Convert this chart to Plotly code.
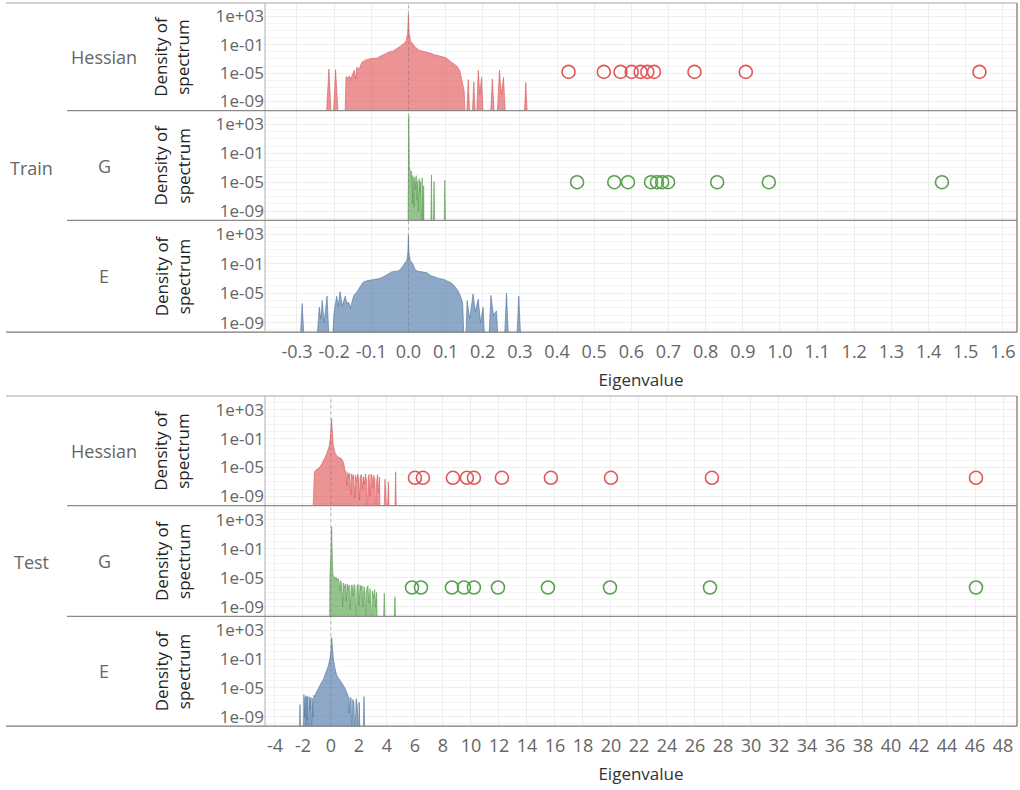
import numpy as np
import plotly.graph_objects as go

W, H = 1020, 790
FLOOR = -12  # log10 density used for empty stretches (below the visible axis)

# ---------------------------------------------------------------- data
# Eigenvalue spectra: eigenvalue positions and log10(density of spectrum)

# Train / Hessian
train_hess_x = [-0.222, -0.214, -0.207, -0.203, -0.196, -0.188,
                -0.171, -0.168, -0.163, -0.159, -0.155, -0.150, -0.146, -0.142, -0.139, -0.132,
                -0.126, -0.118, -0.108, -0.098, -0.086, -0.074, -0.062, -0.052, -0.042, -0.032,
                -0.022, -0.012, -0.006, -0.002, 0.0, 0.002, 0.006, 0.012, 0.020, 0.030, 0.040,
                0.050, 0.060, 0.070, 0.080, 0.090, 0.100, 0.110, 0.120, 0.130, 0.138, 0.143,
                0.150, 0.153,
                0.156, 0.161, 0.166, 0.171, 0.176, 0.181, 0.183, 0.188, 0.192, 0.197, 0.202,
                0.220, 0.226, 0.232, 0.238, 0.245, 0.250, 0.256, 0.262, 0.311, 0.316, 0.321]
train_hess_logd = [FLOOR, -4.4, FLOOR, FLOOR, -4.5, FLOOR,
                   FLOOR, -5.5, -5.7, -5.4, -5.8, -5.0, -4.6, -5.8, -4.2, -4.4,
                   -3.5, -3.2, -3.0, -2.9, -2.9, -2.6, -2.3, -2.0, -1.9, -1.6,
                   -1.2, -0.8, -0.4, 0.6, 3.35, 0.6, -0.5, -0.9, -1.4, -1.8, -1.9,
                   -2.0, -2.2, -2.4, -2.5, -2.6, -2.8, -3.2, -3.6, -4.0, -4.6, -5.9,
                   -7.5, FLOOR,
                   FLOOR, -5.9, FLOOR, FLOOR, -6.2, FLOOR, FLOOR, -4.6, -8.0, -5.6, FLOOR,
                   FLOOR, -5.8, FLOOR, FLOOR, -4.6, -8.0, -5.6, FLOOR, FLOOR, -6.3, FLOOR]

# Train / G
train_g_x = [-0.001, 0.0, 0.001, 0.0025, 0.004, 0.006, 0.008, 0.010, 0.011, 0.012, 0.014,
             0.015, 0.017, 0.019, 0.021, 0.023, 0.025, 0.027, 0.029, 0.031, 0.033, 0.035,
             0.036, 0.037, 0.038, 0.040, 0.041, 0.042, 0.060, 0.062, 0.064, 0.067, 0.069,
             0.071, 0.096, 0.098, 0.100]
train_g_logd = [FLOOR, -3.5, 4.2, -2.9, -3.2, -3.7, -3.5, -4.6, -8.0, -4.1, -5.2,
                -8.5, -4.3, -6.0, -4.1, -7.5, -4.8, -9.0, -4.5, -6.5, -4.9, FLOOR,
                FLOOR, -4.4, FLOOR, FLOOR, -5.5, FLOOR, FLOOR, -4.0, FLOOR, FLOOR, -4.9,
                FLOOR, FLOOR, -4.7, FLOOR]

# Train / E
train_e_x = [-0.292, -0.286, -0.280,
             -0.247, -0.240, -0.236, -0.232, -0.227, -0.219, -0.213,
             -0.205, -0.200, -0.193, -0.189, -0.184, -0.178, -0.170, -0.165, -0.161, -0.156,
             -0.151, -0.147, -0.141, -0.135, -0.128, -0.122, -0.112, -0.100, -0.088, -0.077,
             -0.065, -0.055, -0.045, -0.035, -0.027, -0.018, -0.010, -0.004, -0.0015, 0.0,
             0.0015, 0.005, 0.011, 0.018, 0.025, 0.035, 0.049, 0.060, 0.071, 0.082, 0.094,
             0.105, 0.116, 0.125, 0.134, 0.141, 0.146, 0.150,
             0.154, 0.158, 0.165, 0.174, 0.180, 0.188, 0.194, 0.201, 0.206,
             0.216, 0.222, 0.229, 0.237, 0.242, 0.258, 0.264, 0.270, 0.291, 0.297, 0.303]
train_e_logd = [FLOOR, -6.4, FLOOR,
                FLOOR, -6.9, -8.5, -6.0, -9.0, -5.4, FLOOR,
                FLOOR, -7.5, -5.4, -6.8, -4.8, -6.7, -5.4, -6.5, -6.2, -7.0,
                -6.0, -5.3, -5.0, -4.5, -3.9, -3.5, -3.3, -3.2, -3.1, -3.0,
                -2.7, -2.4, -2.1, -2.0, -2.0, -1.5, -1.0, -0.5, 0.5, 2.86,
                0.5, -0.6, -0.9, -1.8, -2.0, -2.1, -2.2, -2.6, -2.85, -3.0, -3.1,
                -3.3, -3.6, -4.1, -4.7, -5.5, -6.3, FLOOR,
                FLOOR, -6.0, -8.5, -5.1, -7.5, -5.8, -9.0, -6.9, FLOOR,
                FLOOR, -5.3, -8.0, -7.4, FLOOR, FLOOR, -5.0, FLOOR, FLOOR, -5.4, FLOOR]

# Test / Hessian
test_hess_x = [-1.30, -1.26, -1.18, -1.09, -0.95, -0.79, -0.65, -0.55, -0.42, -0.31, -0.20,
               -0.12, -0.04, 0.05, 0.12, 0.17, 0.28, 0.40, 0.55, 0.76, 0.90, 1.00, 1.08,
               1.14, 1.20, 1.28, 1.34, 1.42, 1.48, 1.56, 1.62, 1.70, 1.76, 1.84, 1.90, 1.98,
               2.04, 2.10, 2.18, 2.26, 2.32, 2.40, 2.46, 2.54, 2.60, 2.66, 2.72, 2.80, 2.86,
               2.94, 3.00, 3.06, 3.14, 3.20, 3.26, 3.32, 3.40, 3.46, 3.52,
               3.78, 3.86, 3.94, 4.02, 4.10, 4.18, 4.56, 4.62, 4.68]
test_hess_logd = [FLOOR, -8.4, -5.6, -5.4, -5.2, -4.95, -4.5, -4.0, -3.6, -3.1, -2.6,
                  -2.0, -0.8, 1.72, -0.6, -1.9, -2.9, -3.35, -3.6, -3.8, -4.3, -5.4, -5.6,
                  -7.5, -5.7, -6.5, -5.8, -8.8, -5.9, -6.6, -6.0, -9.2, -6.1, -7.0, -5.9, -6.5,
                  -9.5, -6.2, -6.0, -8.0, -6.3, -7.3, -5.9, -6.8, FLOOR, -6.4, -6.0, -9.0, -5.9,
                  -6.2, -7.8, -6.1, -6.6, FLOOR, -7.0, -6.0, -8.5, -6.3, FLOOR,
                  FLOOR, -6.6, FLOOR, FLOOR, -7.0, FLOOR, FLOOR, -5.6, FLOOR]

# Test / G
test_g_x = [-0.10, -0.07, 0.0, 0.05, 0.10, 0.14, 0.22, 0.29, 0.36, 0.44, 0.52, 0.58, 0.64,
            0.70, 0.78, 0.84, 0.90, 0.98, 1.04, 1.10, 1.16, 1.24, 1.30, 1.38, 1.44, 1.52,
            1.58, 1.66, 1.72, 1.80, 1.86, 1.94, 2.00, 2.08, 2.14, 2.22, 2.28, 2.36, 2.44,
            2.50, 2.56, 2.64, 2.72, 2.80, 2.88, 2.96, 3.04, 3.12, 3.20, 3.26, 3.32,
            3.74, 3.81, 3.88, 4.50, 4.57, 4.64]
test_g_logd = [FLOOR, -4.5, -2.0, 1.98, -2.5, -4.6, -4.8, -5.1, -4.9, -5.3, -5.1, -5.6, -6.8,
               -5.4, -6.0, -9.0, -5.7, -6.4, -5.9, -8.2, -5.8, -6.6, -6.0, -9.4, -6.1, -6.0,
               -7.5, -5.9, -6.4, FLOOR, -6.2, -5.9, -8.8, -6.0, -6.6, -6.1, -9.0, -6.2, -7.0,
               FLOOR, -6.4, -6.1, -8.5, -6.5, FLOOR, -6.8, -7.8, -6.6, -9.0, -7.0, FLOOR,
               FLOOR, -7.15, FLOOR, FLOOR, -7.6, FLOOR]

# Test / E
test_e_x = [-2.26, -2.21, -2.17,
            -1.97, -1.93, -1.88, -1.84, -1.80, -1.76, -1.72, -1.66, -1.60, -1.56, -1.50,
            -1.43, -1.38, -1.34, -1.28, -1.22, -1.14, -1.07, -0.95, -0.79, -0.67, -0.55,
            -0.43, -0.31, -0.18, -0.07, 0.00, 0.05, 0.10, 0.17, 0.28, 0.40, 0.52, 0.64,
            0.80, 1.00, 1.12, 1.24, 1.30, 1.36, 1.44, 1.50, 1.56, 1.64, 1.72, 1.80, 1.88,
            1.96, 2.02, 2.08, 2.30, 2.36, 2.42]
test_e_logd = [FLOOR, -7.3, FLOOR,
               FLOOR, -5.9, -9.0, -6.2, FLOOR, -6.1, -9.5, -6.2, FLOOR, -6.2, -8.0,
               -6.3, FLOOR, -6.4, -9.0, -6.0, -6.2, -5.7, -5.3, -4.6, -4.2, -3.9,
               -3.3, -2.7, -1.9, -0.9, 0.2, 1.96, 0.0, -0.9, -2.2, -3.2, -3.6, -3.9,
               -4.4, -5.0, -5.6, -6.2, -8.5, -6.3, -6.5, FLOOR, -6.6, -7.0, FLOOR, -6.5, -7.5,
               FLOOR, -7.0, FLOOR, FLOOR, -6.2, FLOOR]

# Top eigenvalues (outliers) and the density level at which they are marked
train_hess_top = [0.431, 0.526, 0.571, 0.601, 0.625, 0.643, 0.661, 0.770, 0.908, 1.537]
train_g_top = [0.454, 0.554, 0.591, 0.653, 0.669, 0.683, 0.699, 0.831, 0.970, 1.436]
test_hess_top = [6.00, 6.57, 8.71, 9.71, 10.21, 12.21, 15.71, 20.00, 27.21, 46.07]
test_g_top = [5.79, 6.43, 8.64, 9.50, 10.21, 11.93, 15.50, 19.93, 27.07, 46.07]
train_top_density = [1.5e-05, 1.0e-05]
test_top_density = [3.7e-07, 4.7e-07]

# Axis ticks
y_tick_vals = [1e3, 1e-1, 1e-5, 1e-9]
y_tick_text = ["1e+03", "1e-01", "1e-05", "1e-09"]
train_x_ticks = [-0.3, -0.2, -0.1, 0.0, 0.1, 0.2, 0.3, 0.4, 0.5, 0.6, 0.7, 0.8, 0.9,
                 1.0, 1.1, 1.2, 1.3, 1.4, 1.5, 1.6]
train_x_text = ["-0.3", "-0.2", "-0.1", "0.0", "0.1", "0.2", "0.3", "0.4", "0.5", "0.6",
                "0.7", "0.8", "0.9", "1.0", "1.1", "1.2", "1.3", "1.4", "1.5", "1.6"]
test_x_ticks = [-4, -2, 0, 2, 4, 6, 8, 10, 12, 14, 16, 18, 20, 22, 24, 26, 28, 30, 32,
                34, 36, 38, 40, 42, 44, 46, 48]
test_x_text = [str(v) for v in test_x_ticks]
decade_vals = [10.0 ** k for k in range(-10, 5)]

# ---------------------------------------------------------------- style
FONT = "Open Sans"
C_RED, C_GREEN, C_BLUE = "#E15759", "#59A14F", "#4E79A7"
FILL = {"red": "rgba(225,87,89,0.64)", "green": "rgba(89,161,79,0.64)",
        "blue": "rgba(78,121,167,0.64)"}
EDGE = {"red": "rgba(214,80,84,0.8)", "green": "rgba(80,150,70,0.8)",
        "blue": "rgba(70,110,155,0.8)"}

PLOT_L, PLOT_R = 265, 1017
# pixel rows of the six panels (top, bottom)
panels = [(3, 111), (111, 221), (221, 333), (397, 507), (507, 618), (618, 728)]
LOG_RANGE = [-10.3, 4.9]


def px_x(p):
    return p / W


def px_y(p):
    return 1 - p / H


fig = go.Figure()


def add_area(xs, logd, xa, ya, key):
    xs = list(xs)
    ys = list(np.power(10.0, np.array(logd, dtype=float)))
    fig.add_trace(go.Scatter(
        x=xs, y=ys, xaxis=xa, yaxis=ya, mode="lines", fill="toself",
        fillcolor=FILL[key], line=dict(color=EDGE[key], width=0.7),
        hoverinfo="skip", showlegend=False))


def add_circles(xs, dens, xa, ya, color):
    fig.add_trace(go.Scatter(
        x=xs, y=[dens] * len(xs), xaxis=xa, yaxis=ya, mode="markers",
        marker=dict(symbol="circle-open", size=13, color=color, line=dict(width=1.6)),
        hoverinfo="x", showlegend=False))


add_area(train_hess_x, train_hess_logd, "x", "y", "red")
add_area(train_g_x, train_g_logd, "x", "y2", "green")
add_area(train_e_x, train_e_logd, "x", "y3", "blue")
add_area(test_hess_x, test_hess_logd, "x2", "y4", "red")
add_area(test_g_x, test_g_logd, "x2", "y5", "green")
add_area(test_e_x, test_e_logd, "x2", "y6", "blue")

add_circles(train_hess_top, train_top_density[0], "x", "y", C_RED)
add_circles(train_g_top, train_top_density[1], "x", "y2", C_GREEN)
add_circles(test_hess_top, test_top_density[0], "x2", "y4", C_RED)
add_circles(test_g_top, test_top_density[1], "x2", "y5", C_GREEN)

layout = dict(
    width=W, height=H, margin=dict(l=0, r=0, t=0, b=0),
    paper_bgcolor="white", plot_bgcolor="white",
    font=dict(family=FONT, size=16, color="#666666"),
    showlegend=False,
)

xcommon = dict(domain=[px_x(PLOT_L), px_x(PLOT_R)], showgrid=True, gridcolor="#eeeeee",
               gridwidth=1, zeroline=False, showline=False, ticks="",
               ticklabelstandoff=7,
               tickfont=dict(family=FONT, size=18, color="#666666"), tickmode="array",
               title=dict(text="Eigenvalue", font=dict(family=FONT, size=17, color="#333333"),
                          standoff=11))
layout["xaxis"] = dict(xcommon, range=[-0.386, 1.638], anchor="y3",
                       tickvals=train_x_ticks, ticktext=train_x_text)
layout["xaxis2"] = dict(xcommon, range=[-4.71, 49.0], anchor="y6",
                        tickvals=test_x_ticks, ticktext=test_x_text)

for i, (top, bot) in enumerate(panels):
    name = "yaxis" if i == 0 else f"yaxis{i + 1}"
    layout[name] = dict(
        type="log", range=LOG_RANGE, domain=[px_y(bot), px_y(top)],
        anchor="x" if i < 3 else "x2",
        tickmode="array", tickvals=y_tick_vals, ticktext=y_tick_text,
        tickfont=dict(family=FONT, size=17, color="#666666"),
        showgrid=True, gridcolor="#eeeeee", zeroline=False, showline=False, ticks="",
        minor=dict(tickmode="array", tickvals=decade_vals, showgrid=True,
                   gridcolor="#f4f4f4", ticks=""),
    )

fig.update_layout(**layout)

shapes = []
# dotted zero lines
for xa, (top, bot) in (("x", (3, 333)), ("x2", (397, 728))):
    shapes.append(dict(type="line", xref=xa, yref="paper", x0=0, x1=0,
                       y0=px_y(bot), y1=px_y(top), layer="above",
                       line=dict(color="rgba(120,120,120,0.55)", width=1, dash="dot")))
# frame lines
for top, bot in ((3, 333), (397, 728)):
    shapes.append(dict(type="line", xref="paper", yref="paper", x0=px_x(6), x1=px_x(PLOT_R),
                       y0=px_y(top), y1=px_y(top), line=dict(color="#a6a6a6", width=1)))
    shapes.append(dict(type="line", xref="paper", yref="paper", x0=px_x(6), x1=px_x(PLOT_R),
                       y0=px_y(bot), y1=px_y(bot), line=dict(color="#7a7a7a", width=1.2)))
    shapes.append(dict(type="line", xref="paper", yref="paper", x0=px_x(PLOT_L), x1=px_x(PLOT_L),
                       y0=px_y(bot), y1=px_y(top), line=dict(color="#b0b0b0", width=1)))
    shapes.append(dict(type="line", xref="paper", yref="paper", x0=px_x(PLOT_R), x1=px_x(PLOT_R),
                       y0=px_y(bot), y1=px_y(top), line=dict(color="#6e6e6e", width=1.2)))
for yy in (111, 221, 507, 618):
    shapes.append(dict(type="line", xref="paper", yref="paper", x0=px_x(67), x1=px_x(PLOT_R),
                       y0=px_y(yy), y1=px_y(yy), line=dict(color="#8a8a8a", width=1.2)))
fig.update_layout(shapes=shapes)

ann = []
for label, yc in (("Train", 168), ("Test", 563)):
    ann.append(dict(text=label, x=px_x(31), y=px_y(yc), xref="paper", yref="paper",
                    xanchor="center", yanchor="middle", showarrow=False,
                    font=dict(family=FONT, size=18, color="#666666")))
row_names = ["Hessian", "G", "E"]
for i, (top, bot) in enumerate(panels):
    yc = (top + bot) / 2
    ann.append(dict(text=row_names[i % 3], x=px_x(104), y=px_y(yc), xref="paper",
                    yref="paper", xanchor="center", yanchor="middle", showarrow=False,
                    font=dict(family=FONT, size=18, color="#666666")))
    ann.append(dict(text="Density of<br>spectrum", x=px_x(172), y=px_y(yc), xref="paper",
                    yref="paper", xanchor="center", yanchor="middle", showarrow=False,
                    textangle=-90,
                    font=dict(family=FONT, size=17, color="#222222")))
fig.update_layout(annotations=ann)

fig.write_html("out.html")
